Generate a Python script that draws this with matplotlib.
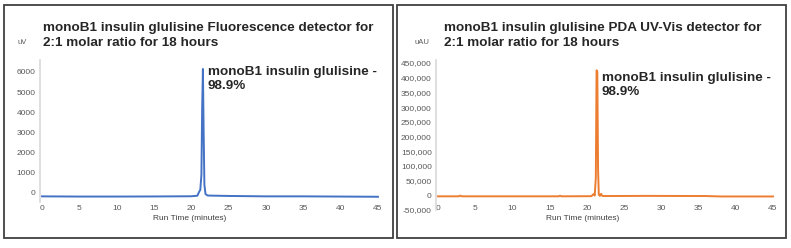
import matplotlib
matplotlib.use('Agg')
import matplotlib.pyplot as plt
from matplotlib.patches import Rectangle

plt.rcParams['font.family'] = ['Liberation Sans', 'DejaVu Sans']

# Fluorescence trace (uV)
fl_time = [0, 5, 10, 15, 20, 20.8, 21.05, 21.2, 21.35, 21.45, 21.55, 21.65, 21.75, 21.9, 22.2, 25, 30, 35, 40, 45]
fl_signal = [-170, -180, -180, -175, -165, -140, 60, 150, 900, 4200, 6150, 3000, 400, -60, -130, -150, -170, -170, -180, -190]

# PDA UV-Vis trace (uAU)
uv_time = [0, 2.8, 3.0, 3.2, 10, 16.2, 16.4, 16.6, 20.6, 20.9, 21.05, 21.2, 21.3, 21.4, 21.5, 21.6, 21.75, 21.9, 22.05, 22.2, 28, 36, 38, 45]
uv_signal = [-3500, -3500, -1000, -3500, -3500, -3500, -1500, -3500, -3000, 4000, -1000, 60000, 425000, 420000, 90000, 2000, -2000, 5000, -1500, -2500, -2000, -2500, -4000, -4000]

x_ticks = [0, 5, 10, 15, 20, 25, 30, 35, 40, 45]
fl_yticks = [0, 1000, 2000, 3000, 4000, 5000, 6000]
uv_yticks = [-50000, 0, 50000, 100000, 150000, 200000, 250000, 300000, 350000, 400000, 450000]

titles = ["monoB1 insulin glulisine Fluorescence detector for\n2:1 molar ratio for 18 hours",
          "monoB1 insulin glulisine PDA UV-Vis detector for\n2:1 molar ratio for 18 hours"]
units = ["uV", "uAU"]
peak_label = "monoB1 insulin glulisine -\n98.9%"

W, H = 791, 248
fig = plt.figure(figsize=(W / 100, H / 100), dpi=100)


def fx(px):
    return px / W


def fy(py):
    return 1 - py / H


def style_axes(ax, yticks, ylabels):
    for s in ['top', 'right', 'bottom']:
        ax.spines[s].set_visible(False)
    ax.spines['left'].set_color('#d9d9d9')
    ax.spines['left'].set_linewidth(1.2)
    ax.spines['bottom'].set_position(('data', 0))
    ax.set_xlim(-0.27, 45.27)
    ax.set_xticks(x_ticks)
    ax.set_yticks(yticks)
    ax.set_yticklabels(ylabels)
    ax.tick_params(length=0, labelsize=6, labelcolor='#595959')
    ax.tick_params(axis='y', pad=3)


# left panel
ax1 = fig.add_axes([fx(40), fy(202), fx(340), (202 - 60) / H])
ax1.plot(fl_time, fl_signal, color='#4472c4', lw=1.4)
ax1.set_ylim(-450, 6595)
style_axes(ax1, fl_yticks, [str(v) for v in fl_yticks])
ax1.tick_params(axis='x', pad=9)

# right panel
ax2 = fig.add_axes([fx(436), fy(210), fx(339), (210 - 60) / H])
ax2.plot(uv_time, uv_signal, color='#ed7d31', lw=1.4)
ax2.set_ylim(-50000, 460000)
style_axes(ax2, uv_yticks, [f"{v:,}" for v in uv_yticks])
ax2.tick_params(axis='x', pad=7)

for ax, t, u, tx, ux, box_x, peak_x, peak_y in [
        (ax1, titles[0], units[0], 43, 22, 4, 208, 66),
        (ax2, titles[1], units[1], 444, 422, 397, 602, 72)]:
    fig.text(fx(tx), fy(22.5), t, fontsize=9.7, fontweight='bold', color='#262626',
             va='top', ha='left', linespacing=1.3)
    fig.text(fx(ux), fy(42), u, fontsize=5.5, color='#595959', va='center', ha='center')
    fig.text(fx(peak_x), fy(peak_y), peak_label, fontsize=9.7, fontweight='bold',
             color='#262626', va='top', ha='left', linespacing=1.25)
    fig.text(fx(box_x + 186), fy(218), "Run Time (minutes)", fontsize=6,
             color='#404040', va='center', ha='center')
    fig.add_artist(Rectangle((fx(box_x), fy(238)), fx(389), (238 - 5) / H,
                             transform=fig.transFigure, fill=False,
                             edgecolor='#404040', lw=1.3))

fig.savefig('out.png', dpi=100)
